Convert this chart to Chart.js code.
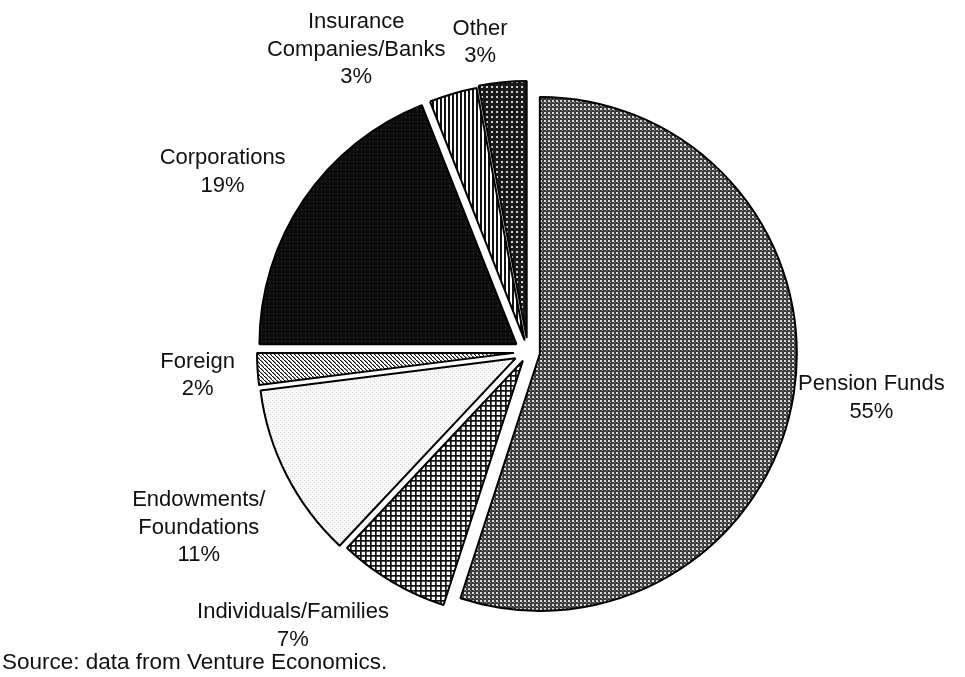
<!DOCTYPE html>
<html>
<head>
<meta charset="utf-8">
<script src="https://cdn.jsdelivr.net/npm/chart.js@4.4.1/dist/chart.umd.min.js"></script>
<style>
  html, body { margin: 0; padding: 0; background: #fff; }
  #wrap { width: 965px; height: 677px; position: relative; }
</style>
</head>
<body>
<div id="wrap"><canvas id="pie" width="965" height="677"></canvas></div>
<script>
// data, clockwise from 12 o'clock
const categories = ["Pension Funds", "Individuals/Families", "Endowments/\nFoundations", "Foreign", "Corporations", "Insurance\nCompanies/Banks", "Other"];
const shares = [55, 7, 11, 2, 19, 3, 3];
const source = "Source: data from Venture Economics.";

// styling: how far each slice is pulled out, and where its label sits
const explodeBy = [12, 10, 14, 14, 14, 12, 14];
const labelAngle = [97.6, 220.6, 241.9, 265.9, 300.5, 330.4, 351.2];
const labelDist = [1.348, 1.405, 1.452, 1.289, 1.379, 1.353, 1.218];

function tile(size, draw) {
  const c = document.createElement("canvas");
  c.width = size; c.height = size;
  const g = c.getContext("2d");
  draw(g, size);
  return g.createPattern(c, "repeat");
}

const ctx0 = document.getElementById("pie").getContext("2d");
const patterns = [
  // pension: grey checker
  tile(4, (g) => { g.fillStyle = "#3a3a3a"; g.fillRect(0, 0, 4, 4); g.fillStyle = "#d8d8d8"; g.fillRect(0, 0, 2, 2); g.fillStyle = "#999"; g.fillRect(2, 2, 1, 1); }),
  // individuals: black grid
  tile(5, (g) => { g.fillStyle = "#fff"; g.fillRect(0, 0, 5, 5); g.fillStyle = "#111"; g.fillRect(0, 0, 5, 1.7); g.fillRect(0, 0, 1.7, 5); }),
  // endowments: very light dots
  tile(4, (g) => { g.fillStyle = "#fafafa"; g.fillRect(0, 0, 4, 4); g.fillStyle = "#cfcfcf"; g.fillRect(0, 0, 1, 1); g.fillRect(2, 2, 1, 1); }),
  // foreign: diagonal stripes
  tile(4, (g) => { g.fillStyle = "#fff"; g.fillRect(0, 0, 4, 4); g.fillStyle = "#111"; for (let i = 0; i < 4; i++) { g.fillRect(i, i, 1.5, 1); } }),
  // corporations: near black
  tile(4, (g) => { g.fillStyle = "#0c0c0c"; g.fillRect(0, 0, 4, 4); g.fillStyle = "#3c3c3c"; g.fillRect(1, 1, 1, 1); }),
  // insurance: vertical lines
  tile(4, (g) => { g.fillStyle = "#fff"; g.fillRect(0, 0, 4, 4); g.fillStyle = "#111"; g.fillRect(0, 0, 2, 4); }),
  // other: black with white dots
  tile(5, (g) => { g.fillStyle = "#1a1a1a"; g.fillRect(0, 0, 5, 5); g.fillStyle = "#d0d0d0"; g.fillRect(1, 1, 2, 2); })
];

// pull every slice out along its own bisector, keeping its radius
const explode = {
  id: "explode",
  afterDatasetUpdate(chart, args) {
    const meta = chart.getDatasetMeta(args.index);
    meta.data.forEach((arc, i) => {
      const mid = (arc.startAngle + arc.endAngle) / 2;
      arc.x += Math.cos(mid) * explodeBy[i];
      arc.y += Math.sin(mid) * explodeBy[i];
    });
  }
};

// labels outside the pie, placed from the pie centre and radius
const outsideLabels = {
  id: "outsideLabels",
  afterDatasetsDraw(chart) {
    const { ctx, chartArea } = chart;
    const meta = chart.getDatasetMeta(0);
    const cx = (chartArea.left + chartArea.right) / 2;
    const cy = (chartArea.top + chartArea.bottom) / 2;
    ctx.save();
    ctx.font = '22px "Liberation Sans", Arial, sans-serif';
    ctx.fillStyle = "#111";
    ctx.textAlign = "center";
    ctx.textBaseline = "middle";
    meta.data.forEach((arc, i) => {
      const a = (labelAngle[i] - 90) * Math.PI / 180;
      const r = arc.outerRadius * labelDist[i];
      const x = cx + Math.cos(a) * r;
      const y = cy + Math.sin(a) * r;
      const lines = categories[i].split("\n").concat([shares[i] + "%"]);
      const lh = 27.5;
      const top = y - (lines.length - 1) * lh / 2;
      lines.forEach((t, k) => ctx.fillText(t, x, top + k * lh));
    });
    ctx.textAlign = "left";
    ctx.font = '22.5px "Liberation Sans", Arial, sans-serif';
    ctx.fillText(source, 2, 663);
    ctx.restore();
  }
};

new Chart(ctx0, {
  type: "pie",
  data: {
    labels: categories,
    datasets: [{
      data: shares,
      backgroundColor: patterns,
      borderColor: "#000",
      borderWidth: 2,
      hoverOffset: 0
    }]
  },
  options: {
    responsive: false,
    animation: false,
    radius: 257,
    layout: { padding: { left: 112, right: 21, top: 40, bottom: 13 } },
    plugins: {
      legend: { display: false },
      tooltip: { enabled: false }
    }
  },
  plugins: [explode, outsideLabels]
});
</script>
</body>
</html>
